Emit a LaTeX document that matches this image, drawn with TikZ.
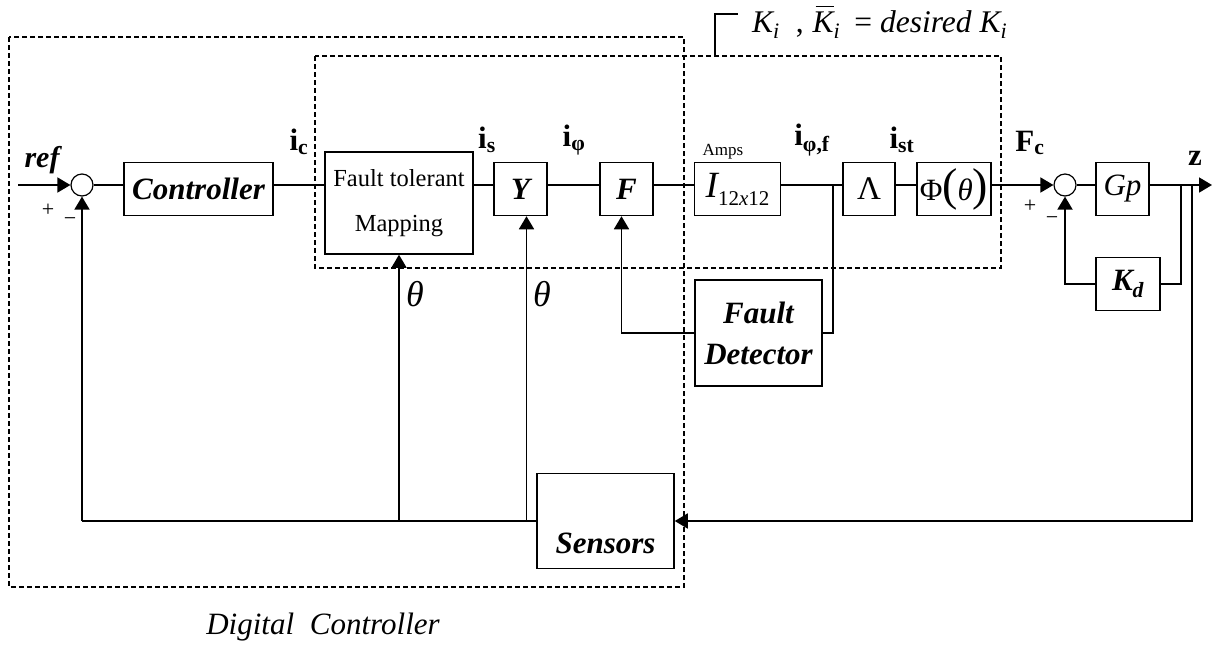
\documentclass[tikz,border=0pt]{standalone}
\usepackage{fontspec}
\setmainfont{Liberation Serif}
\usetikzlibrary{positioning,arrows.meta,calc}
\tikzset{
  bloc/.style      = {draw, line width=1.5pt, inner sep=2pt, minimum height=53pt,
                      font=\fontsize{31}{34}\selectfont\bfseries\itshape},
  blocdrept/.style = {bloc, font=\fontsize{31}{34}\selectfont},
  sumator/.style   = {draw, circle, line width=1.2pt, minimum size=22pt, inner sep=0pt},
  eticheta/.style  = {font=\fontsize{31}{34}\selectfont\bfseries, inner sep=1pt},
  semn/.style      = {font=\fontsize{22}{22}\selectfont, inner sep=0pt},
  linie/.style     = {line width=1.3pt},
  sageata/.style   = {line width=1.8pt, -{Triangle[length=13pt, width=15pt]}},
  grup/.style      = {draw, line width=1.1pt, dash pattern=on 5pt off 3pt}
}

\begin{document}
\begin{tikzpicture}[x=1pt, y=-1pt]
        \useasboundingbox (0,0) rectangle (1217,646);

        % chenare punctate
        \draw[grup] (9,37) rectangle (684,587);
        \draw[grup] (315,56) rectangle (1001,268);
        \draw[linie] (715,56) -- (715,14) -- (738,14);

        % blocuri
        \node[sumator] (s1) at (82,185) {};
        \node[bloc, minimum width=149pt] (ctrl) at (198.5,189) {Controller};
        \node[blocdrept, minimum width=148pt, minimum height=102pt, align=center,
              font=\fontsize{24.5}{45}\selectfont] (map) at (399,203) {Fault tolerant\\Mapping};
        \node[bloc, minimum width=53pt] (yb) at (520.5,189) {Y};
        \node[bloc, minimum width=53pt] (fb) at (626.5,189) {F};
        \node[blocdrept, minimum width=86pt] (amp) at (737.5,189)
            {{\fontsize{37}{37}\selectfont\itshape I}\raisebox{-8pt}{\fontsize{21}{21}\selectfont 12\textit{x}12}};
        \node[blocdrept, minimum width=52pt, font=\fontsize{33}{34}\selectfont] (lam) at (869,189) {Λ};
        \node[blocdrept, minimum width=74pt, inner sep=0pt] (phi) at (954,189)
            {Φ{\fontsize{46}{46}\selectfont(}\textit{θ}{\fontsize{46}{46}\selectfont)}};
        \node[sumator] (s2) at (1065,185) {};
        \node[blocdrept, minimum width=53pt, font=\fontsize{31}{34}\selectfont\itshape] (gp) at (1122.5,189) {Gp};
        \node[bloc, minimum width=64pt] (kd) at (1128,284) {K\textsubscript{d}};
        \node[bloc, minimum width=127pt, minimum height=106pt, align=center,
              font=\fontsize{31}{41}\selectfont\bfseries\itshape] (det) at (758.5,333) {Fault\\Detector};
        \node[bloc, minimum width=137pt, minimum height=95pt,
              label={[font=\fontsize{31}{34}\selectfont\bfseries\itshape, anchor=south, inner sep=2pt, yshift=13pt]south:Sensors}]
            (sens) at (605.5,521) {};

        % puncte de ramificare
        \coordinate (intrare) at (18,185);
        \coordinate (iesire) at (1212,185);
        \coordinate (rF) at (833,185);
        \coordinate (rK) at (1181,185);
        \coordinate (rZ) at (1192,185);
        \coordinate (rS) at (82,521);

        % calea directa
        \draw[sageata] (intrare) -- (s1.west);
        \draw[linie] (s1.east) -- (s1.east -| ctrl.west);
        \draw[linie] (ctrl.east |- s1) -- (s1 -| map.west);
        \draw[linie] (map.east |- s1) -- (s1 -| yb.west);
        \draw[linie] (yb.east |- s1) -- (s1 -| fb.west);
        \draw[linie] (fb.east |- s1) -- (s1 -| amp.west);
        \draw[linie] (amp.east |- s1) -- (s1 -| lam.west);
        \draw[linie] (lam.east |- s1) -- (s1 -| phi.west);
        \draw[sageata] (phi.east |- s2) -- (s2.west);
        \draw[linie] (s2.east) -- (s2 -| gp.west);
        \draw[sageata] (gp.east |- s2) -- (iesire);

        % reactii
        \draw[linie] (rF) |- (det.east);
        \draw[sageata] (det.west) -| ($(fb.south)+(-5,0)$);
        \draw[linie] (rK) |- (kd.east);
        \draw[sageata] (kd.west) -| (s2.south);
        \draw[sageata] (rZ) |- (sens.east);
        \draw[linie] (sens.west) -- (rS);
        \draw[sageata] (rS) -- (s1.south);
        \draw[sageata] (map.south |- rS) -- (map.south);
        \draw[sageata] ($(yb.south |- rS)+(6,0)$) -- ($(yb.south)+(6,0)$);

        % etichete
        \node[eticheta, font=\fontsize{30}{34}\selectfont\bfseries\itshape] (lref) at (42,160) {ref};
        \node[semn] at (48,210) {+};
        \node[semn] at (70,222) {−};
        \node[semn] at (1030,206) {+};
        \node[semn] at (1052,221) {−};
        \node[eticheta] (lic) at (299,142) {i\textsubscript{c}};
        \node[eticheta] (lis) at (487,140) {i\textsubscript{s}};
        \node[eticheta] (lip) at (574,140) {i\textsubscript{φ}};
        \node[eticheta] (lipf) at (812,140) {i\textsubscript{φ,f}};
        \node[eticheta] (list) at (902,140) {i\textsubscript{st}};
        \node[eticheta] (lfc) at (1030,143) {F\textsubscript{c}};
        \node[eticheta] (lz) at (1195,158) {z};
        \node[font=\fontsize{17}{17}\selectfont, inner sep=0pt] (lamps) at (723,152) {Amps};
        \node[font=\fontsize{36}{36}\selectfont\itshape, inner sep=0pt] (th1) at (415,294) {θ};
        \node[font=\fontsize{36}{36}\selectfont\itshape, inner sep=0pt] (th2) at (542,294) {θ};
        \node[anchor=base west, font=\fontsize{31.5}{31.5}\selectfont\itshape, inner sep=0pt] (lki) at (752,32)
            {K\textsubscript{i}\hspace{16pt}\textup{,}\hspace{9pt}\makebox[0pt][l]{\hspace{3pt}\raisebox{25pt}{\rule{18pt}{1.3pt}}}K\textsubscript{i}\hspace{14pt}\textup{=}\hspace{8pt}desired K\textsubscript{i}};
        \node[font=\fontsize{31}{31}\selectfont\itshape, inner sep=0pt] (ldc) at (323,627) {Digital\hspace{8pt} Controller};
\end{tikzpicture}
\end{document}
